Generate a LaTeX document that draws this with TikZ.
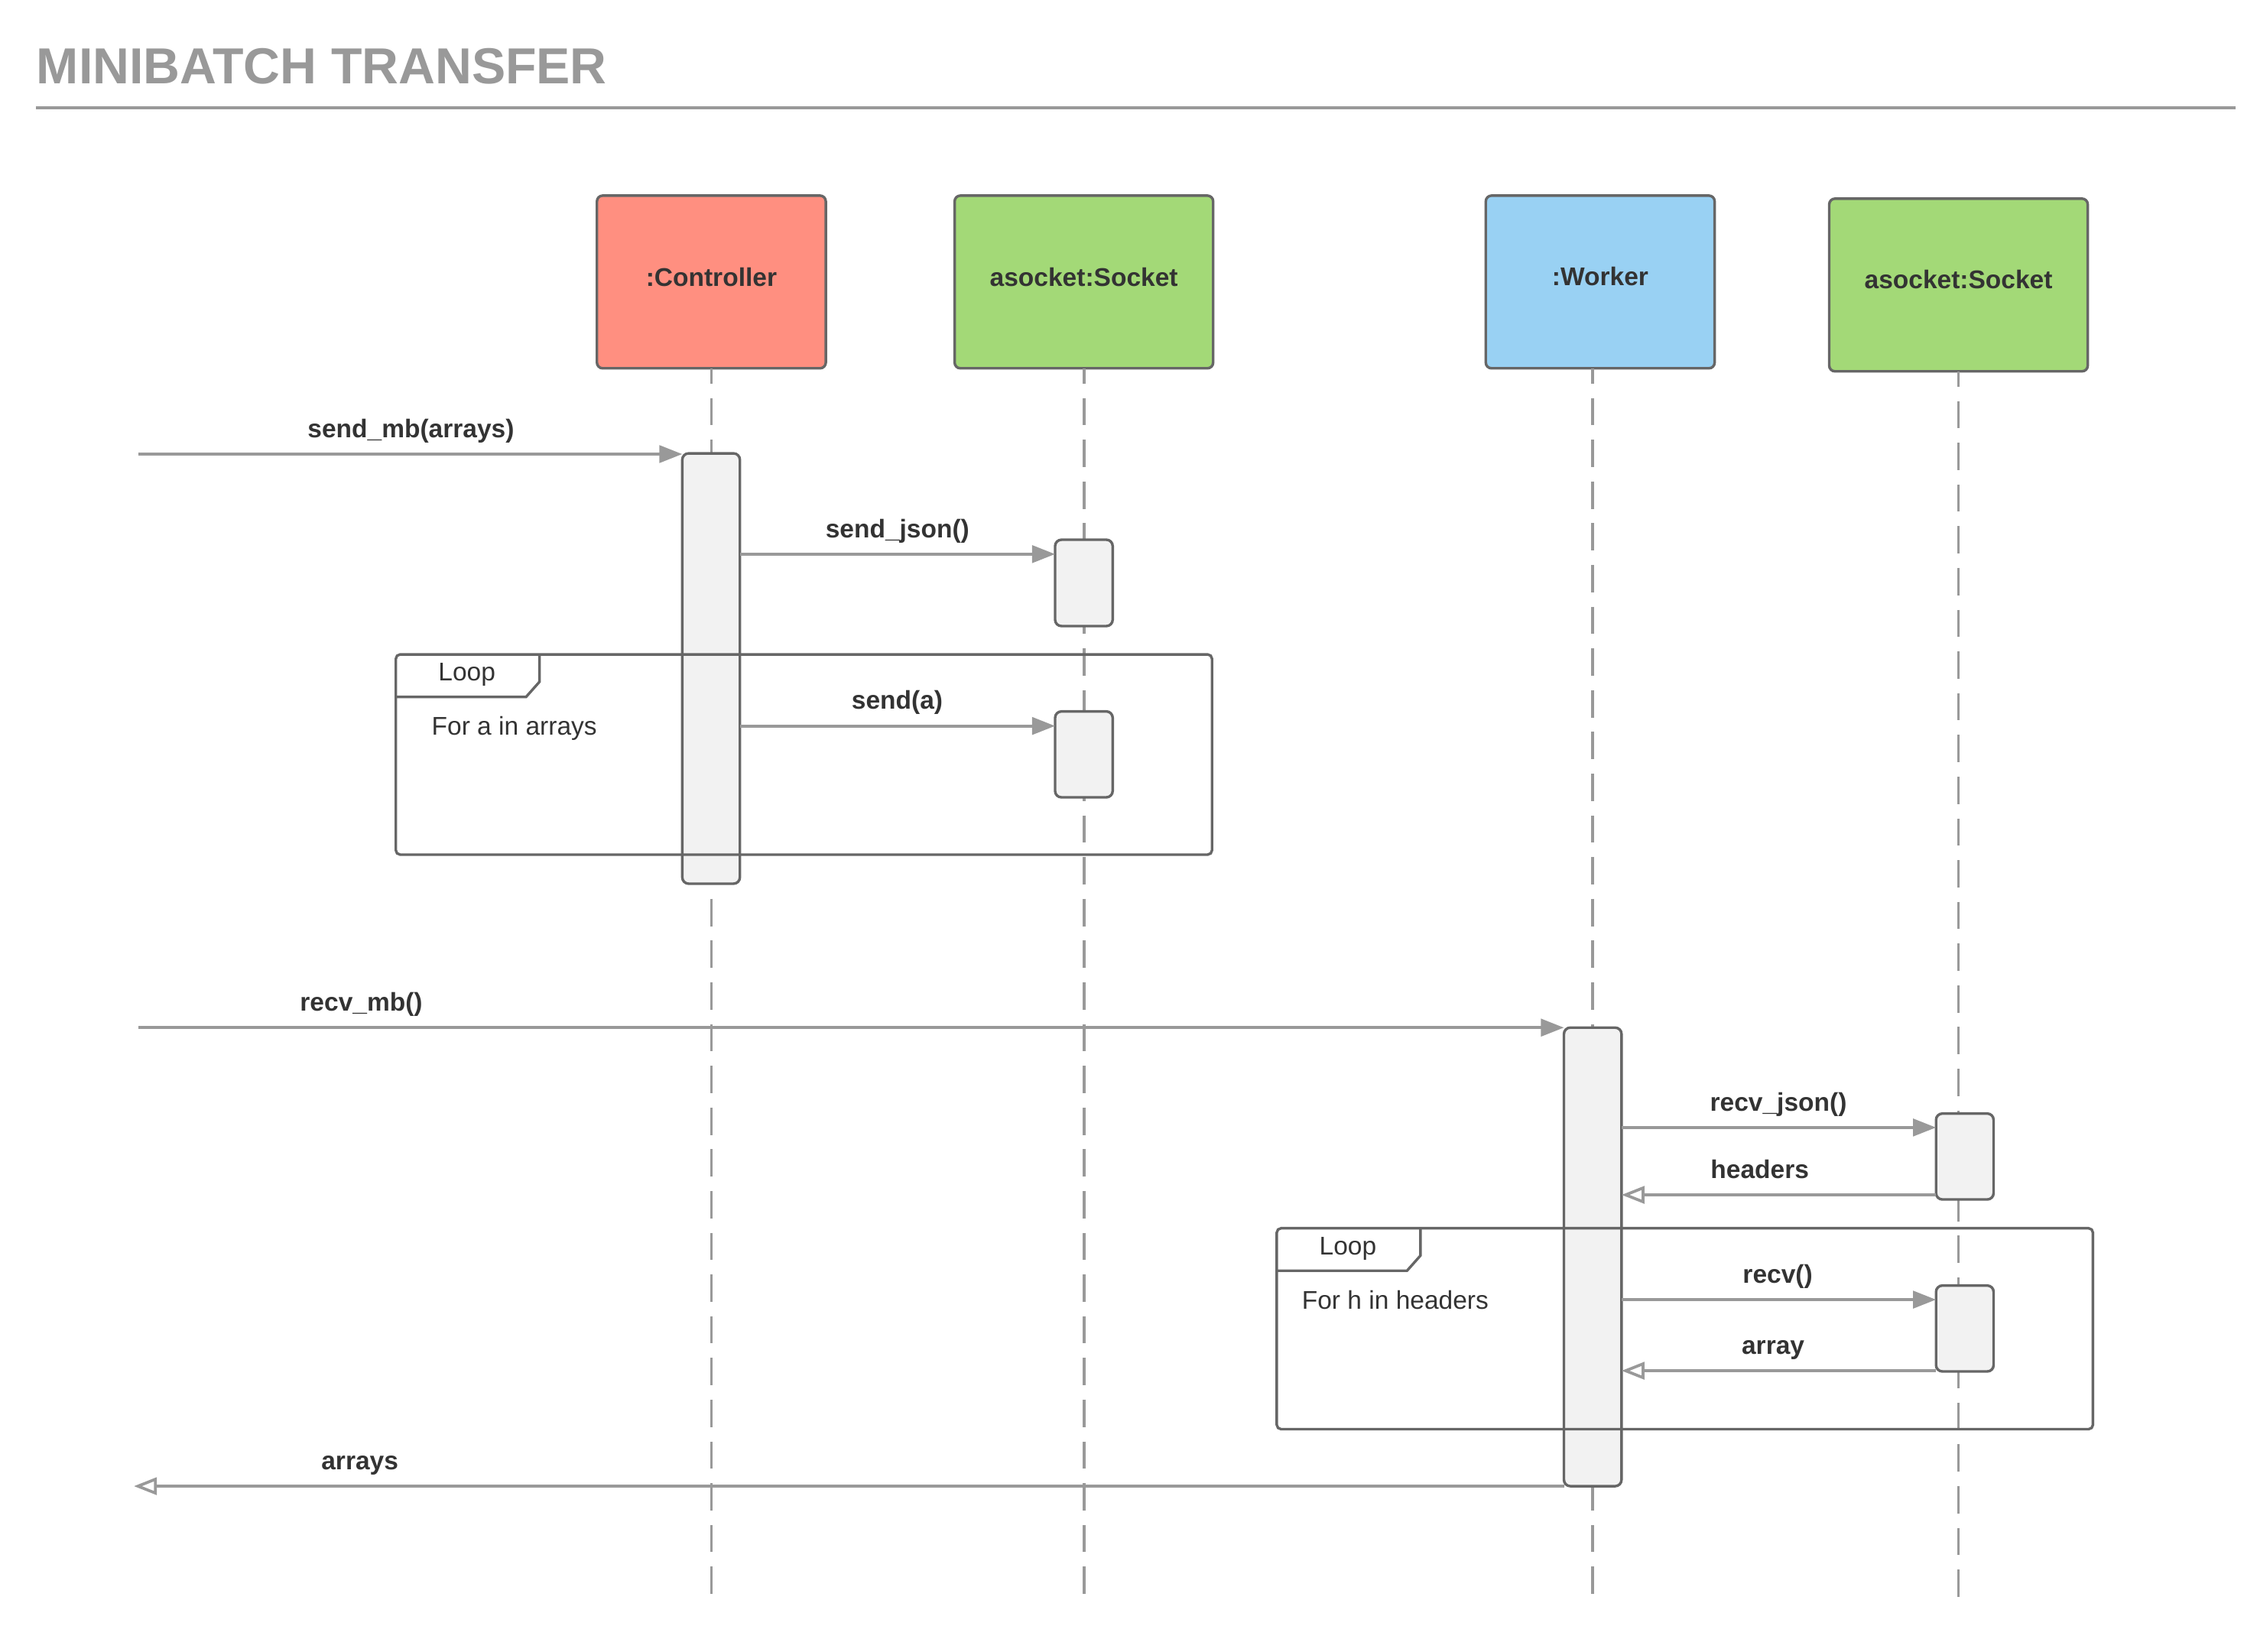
\documentclass[tikz,border=0pt]{standalone}
\usepackage{fontspec}
\setmainfont{Liberation Sans}
\usetikzlibrary{arrows.meta}
\definecolor{ctrlred}{HTML}{FF8F80}
\definecolor{sockgreen}{HTML}{A3D977}
\definecolor{workblue}{HTML}{99D1F3}
\definecolor{edgegray}{HTML}{666666}
\definecolor{msggray}{HTML}{999999}
\definecolor{txtdark}{HTML}{333333}
\definecolor{barfill}{HTML}{F2F2F2}
\begin{document}
\begin{tikzpicture}[x=0.5pt,y=-0.5pt,
  headbox/.style={draw=edgegray, line width=0.9pt, rounded corners=2pt, inner sep=0pt, outer sep=0pt, minimum height=60pt},
  actbar/.style={draw=edgegray, fill=barfill, line width=0.9pt, rounded corners=2.2pt, inner sep=0pt, outer sep=0pt, minimum width=20pt},
  lifeline/.style={draw=msggray, line width=1pt, dash pattern=on 9.5pt off 5pt, dash phase=4.2pt},
  callmsg/.style={draw=msggray, line width=1pt, -{Triangle[length=8pt,width=6pt]}},
  retmsg/.style={draw=msggray, line width=1pt, -{Triangle[open,length=8pt,width=6pt]}},
  msglbl/.style={font=\fontsize{8.9}{10}\selectfont\bfseries, text=txtdark, anchor=base, inner sep=0pt},
  headlbl/.style={font=\fontsize{8.9}{10}\selectfont\bfseries, text=txtdark, anchor=base, inner sep=0pt},
  looptxt/.style={font=\fontsize{8.9}{10}\selectfont, text=txtdark, anchor=base, inner sep=0pt},
  loopframe/.style={draw=edgegray, line width=0.9pt, rounded corners=1.5pt, inner sep=0pt, outer sep=0pt, minimum width=283.5pt},
  tabline/.style={draw=edgegray, line width=0.9pt},
]
\useasboundingbox (0,0) rectangle (1568,1147.8);

% title
\node[font=\fontsize{17.6}{21}\selectfont\bfseries, text=msggray, anchor=base west, inner sep=0pt] (title) at (25,57.9) {MINIBATCH TRANSFER};
\coordinate (ruleL) at (25,74.9);
\coordinate (ruleR) at (1553,74.9);
\draw[msggray, line width=1pt] (ruleL) -- (ruleR);

% lifeline end points
\coordinate (ctrlEnd) at (494.2,1111.5);
\coordinate (sockAEnd) at (753,1109.6);
\coordinate (workEnd) at (1106.2,1113.8);
\coordinate (sockBEnd) at (1360.6,1110);

% heads
\node[headbox, fill=ctrlred, minimum width=79.5pt] (ctrl) at (494.2,195.9) {};
\node[headbox, fill=sockgreen, minimum width=89.8pt] (sockA) at (753,195.9) {};
\node[headbox, fill=workblue, minimum width=79.5pt] (work) at (1111.7,195.9) {};
\node[headbox, fill=sockgreen, minimum width=89.8pt] (sockB) at (1360.6,198) {};

% lifelines
\draw[lifeline] (ctrlEnd |- ctrl.south) -- (ctrlEnd);
\draw[lifeline] (sockAEnd |- sockA.south) -- (sockAEnd);
\draw[lifeline] (workEnd |- work.south) -- (workEnd);
\draw[lifeline] (sockBEnd |- sockB.south) -- (sockBEnd);

% head labels
\node[headlbl] (ctrlT) at (494.2,198.8) {:Controller};
\node[headlbl] (sockAT) at (753,198.8) {asocket:Socket};
\node[headlbl] (workT) at (1111.7,198.6) {:Worker};
\node[headlbl] (sockBT) at (1360.6,200.5) {asocket:Socket};

% activation bars
\node[actbar, minimum height=149.5pt] (cbar) at (494,464.5) {};
\node[actbar, minimum height=30pt] (sa1) at (753,405) {};
\node[actbar, minimum height=29.85pt] (sb1) at (753,524.15) {};
\node[actbar, minimum height=159.3pt] (wbar) at (1106.5,873.3) {};
\node[actbar, minimum height=29.85pt] (s2a) at (1365,803.55) {};
\node[actbar, minimum height=29.85pt] (s2b) at (1365,923.05) {};

% message rows
\coordinate (inA) at (96.4,315.5);
\coordinate (yB) at (0,385);
\coordinate (yC) at (0,504.4);
\coordinate (inD) at (96.4,714);
\coordinate (yE) at (0,783.4);
\coordinate (yF) at (0,830.2);
\coordinate (yG) at (0,903);
\coordinate (yH) at (0,952.4);
\coordinate (outI) at (93,1032.6);

\draw[callmsg] (inA) -- (inA -| cbar.west);
\draw[callmsg] (cbar.east |- yB) -- (sa1.west |- yB);
\draw[callmsg] (cbar.east |- yC) -- (sb1.west |- yC);
\draw[callmsg] (inD) -- (inD -| wbar.west);
\draw[callmsg] (wbar.east |- yE) -- (s2a.west |- yE);
\draw[retmsg] (s2a.west |- yF) -- (wbar.east |- yF);
\draw[callmsg] (wbar.east |- yG) -- (s2b.west |- yG);
\draw[retmsg] (s2b.west |- yH) -- (wbar.east |- yH);
\draw[retmsg] (wbar.west |- outI) -- (outI);

% message labels
\node[msglbl] (lA) at (285.5,304) {send\_mb(arrays)};
\node[msglbl] (lB) at (623.5,373.5) {send\_json()};
\node[msglbl] (lC) at (623.3,492.9) {send(a)};
\node[msglbl] (lD) at (251,702.5) {recv\_mb()};
\node[msglbl] (lE) at (1235.5,771.9) {recv\_json()};
\node[msglbl] (lF) at (1222.6,818.7) {headers};
\node[msglbl] (lG) at (1235,891.5) {recv()};
\node[msglbl] (lH) at (1231.8,940.9) {array};
\node[msglbl] (lI) at (250,1021.1) {arrays};

% loop frames
\node[loopframe, minimum height=69.55pt] (loopA) at (558.5,524.25) {};
\draw[tabline] (loopA.north west) ++(0,29.5) -- ++(90.5,0) -- ++(9.3,-10.5) -- ++(0,-19);
\node[looptxt] (loopAT) at (324.4,473.1) {Loop};
\node[looptxt] (loopAC) at (357.3,510.8) {For a in arrays};

\node[loopframe, minimum height=69.8pt] (loopB) at (1170.5,923.2) {};
\draw[tabline] (loopB.north west) ++(0,29.5) -- ++(90.5,0) -- ++(9.3,-10.5) -- ++(0,-19);
\node[looptxt] (loopBT) at (936.4,871.8) {Loop};
\node[looptxt] (loopBC) at (969.3,909.5) {For h in headers};
\end{tikzpicture}
\end{document}
